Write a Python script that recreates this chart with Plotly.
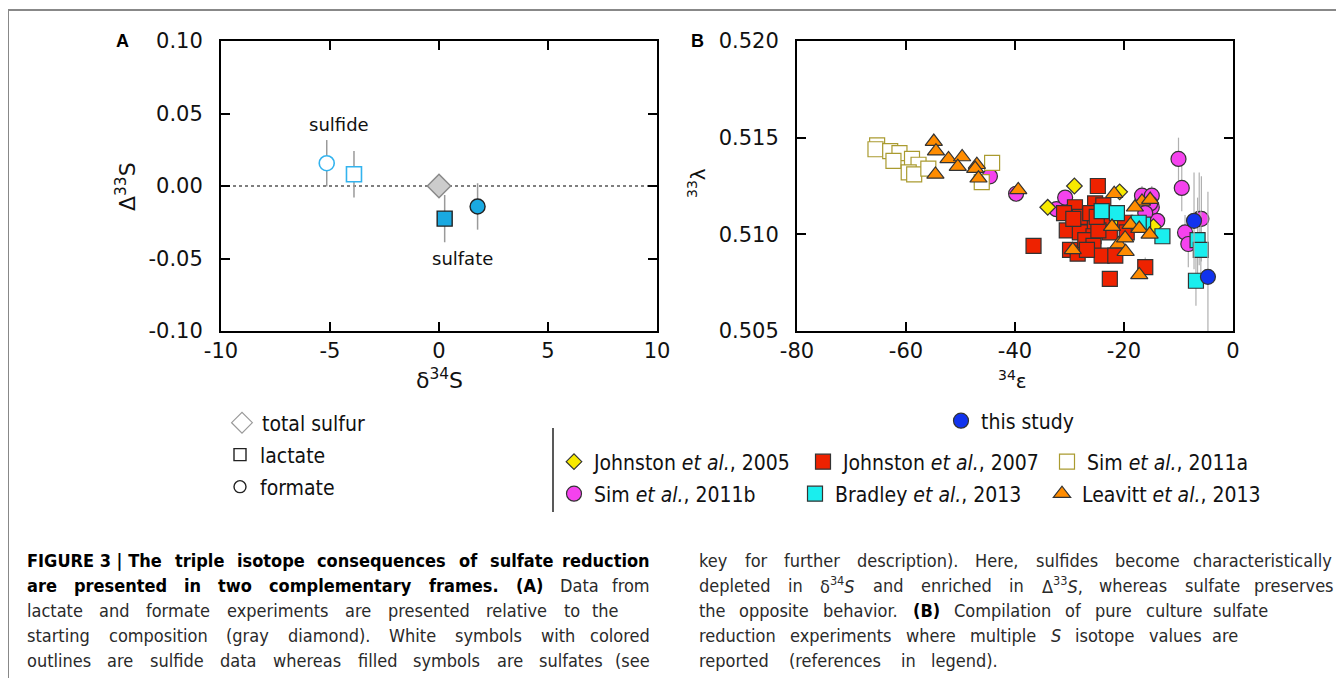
import re

import plotly.graph_objects as go

W, H = 1344, 678
OX, OY = 8, 8  # default page body margin
FW, FH = W - OX, H - OY

# ---- panel A data ----
a_sulfide_formate_x = [-5.15]
a_sulfide_formate_y = [0.0157]
a_sulfide_formate_err = [0.016]
a_sulfide_lactate_x = [-3.9]
a_sulfide_lactate_y = [0.0081]
a_sulfide_lactate_err = [0.016]
a_total_x = [0.0]
a_total_y = [0.0]
a_sulfate_lactate_x = [0.26]
a_sulfate_lactate_y = [-0.0225]
a_sulfate_lactate_err = [0.0163]
a_sulfate_formate_x = [1.77]
a_sulfate_formate_y = [-0.0141]
a_sulfate_formate_err = [0.016]

# ---- panel B data ----
sim11b_x = [-10.0, -9.4, -8.8, -8.2, -6.2, -5.8, -44.6, -39.8, -32.4, -30.8,
            -16.7, -14.9, -14.9, -13.9, -15.2, -16.1]
sim11b_y = [0.5139, 0.5124, 0.5101, 0.5095, 0.5108, 0.5108, 0.5130, 0.5121,
            0.5113, 0.5119, 0.5120, 0.5120, 0.5114, 0.5107, 0.5116, 0.5111]
sim11b_err = [0.0011, 0.0012, 0.0009, 0.0012, 0.0024, 0.0022, 0, 0, 0, 0,
              0.0005, 0.0005, 0.0004, 0, 0, 0]

j05_x = [-29.1, -34.0, -20.8, -21.3, -14.6]
j05_y = [0.5125, 0.5114, 0.5122, 0.5107, 0.5104]

j07_x = [-24.8, -36.6, -29.0, -31.0, -30.5, -29.9, -28.5, -27.4, -26.5, -28.1,
         -25.6, -27.1, -25.3, -23.8, -23.2, -25.6, -24.1, -21.6, -22.6, -16.1,
         -19.8, -19.5, -28.1, -26.2, -22.6, -24.7, -25.0, -29.3, -26.8]
j07_y = [0.5125, 0.5094, 0.5114, 0.5111, 0.5102, 0.5092, 0.5090, 0.5108, 0.5104, 0.5101,
         0.5099, 0.5097, 0.5116, 0.5115, 0.5108, 0.5094, 0.5089, 0.5089, 0.5077, 0.5083,
         0.5106, 0.5101, 0.5109, 0.5111, 0.5101, 0.5102, 0.5109, 0.5108, 0.5092]
j07_err = [0] * 19 + [0.0005] + [0] * 9

sim11a_x = [-65.3, -65.6, -62.9, -61.2, -62.3, -58.9, -57.7, -59.5, -58.5, -55.9, -44.2, -46.1]
sim11a_y = [0.5146, 0.5144, 0.5143, 0.5142, 0.5138, 0.5139, 0.5136, 0.5132, 0.5131, 0.5134,
            0.5137, 0.5127]

bradley_x = [-24.1, -21.3, -16.5, -12.95, -6.5, -5.9, -6.8, -17.3]
bradley_y = [0.5112, 0.5111, 0.5105, 0.5099, 0.5097, 0.5092, 0.5076, 0.5106]
bradley_err = [0, 0, 0, 0.0003, 0.0022, 0.002, 0.0013, 0]

leavitt_x = [-54.9, -54.5, -52.2, -49.7, -50.5, -47.0, -47.3, -46.7, -54.6, -39.4,
             -21.8, -22.2, -21.0, -19.7, -19.8, -18.8, -17.2, -15.3, -16.7, -15.2,
             -18.0, -29.4, -17.2]
leavitt_y = [0.5148, 0.5143, 0.5139, 0.5140, 0.5135, 0.5136, 0.5134, 0.5129, 0.5131, 0.5123,
             0.5121, 0.5104, 0.5095, 0.5091, 0.5098, 0.5105, 0.5103, 0.5100, 0.5117, 0.5118,
             0.5114, 0.5092, 0.5079]

this_x = [-7.15, -4.6]
this_y = [0.5107, 0.5078]
this_err = [0.0025, 0.0044]

a_xticks = [-10, -5, 0, 5, 10]
a_xticklabels = ["-10", "-5", "0", "5", "10"]
a_yticks = [-0.10, -0.05, 0.0, 0.05, 0.10]
a_yticklabels = ["-0.10", "-0.05", "0.00", "0.05", "0.10"]
b_xticks = [-80, -60, -40, -20, 0]
b_xticklabels = ["-80", "-60", "-40", "-20", "0"]
b_yticks = [0.505, 0.510, 0.515, 0.520]
b_yticklabels = ["0.505", "0.510", "0.515", "0.520"]

caption_left = [
    "FIGURE\u00a03\u00a0|\u00a0The triple isotope consequences of sulfate reduction",
    "are presented in two complementary frames. (A) Data from",
    "lactate and formate experiments are presented relative to the",
    "starting composition (gray diamond). White symbols with colored",
    "outlines are sulfide data whereas filled symbols are sulfates (see",
]
caption_left_bold = [99, 7, 0, 0, 0]
caption_left_right = [652, 652, 621, 652, 652]
caption_right = [
    "key for further description). Here, sulfides become characteristically",
    "depleted in δ<sup>34</sup><i>S</i> and enriched in Δ<sup>33</sup><i>S</i>, whereas sulfate preserves",
    "the opposite behavior. <b>(B)</b> Compilation of pure culture sulfate",
    "reduction experiments where multiple <i>S</i> isotope values are",
    "reported (references in legend).",
]
caption_right_right = [1334, 1336, 1270, 1240, 1000]


def px(x):
    return (x - OX) / FW


def py(y):
    return 1 - (y - OY) / FH


FONT = "DejaVu Sans, Liberation Sans, sans-serif"
NARROW = "DejaVu Sans Condensed, Liberation Sans, sans-serif"
CAP_SIZE = 18
OUT = "#333333"

# approximate DejaVu Sans advance widths (em); the condensed face is ~0.9 of these
_LOWER = "abcdefghijklmnopqrstuvwxyz"
_UPPER = "ABCDEFGHIJKLMNOPQRSTUVWXYZ"
_BOOK = dict(zip(_LOWER, [.613, .635, .55, .635, .615, .352, .635, .634, .278, .278, .579, .278, .974,
                          .634, .612, .635, .635, .411, .521, .392, .634, .592, .818, .592, .592, .525]))
_BOOK.update(dict(zip(_UPPER, [.684, .686, .698, .770, .632, .575, .775, .752, .295, .295, .656, .557, .863,
                               .748, .787, .603, .787, .695, .635, .611, .732, .684, .989, .685, .611, .685])))
_BOOK.update({" ": .318, "\u00a0": .318, ".": .318, ",": .318, "(": .39, ")": .39, "|": .337,
              "-": .361})
_BOLD = dict(zip(_LOWER, [.675, .716, .593, .716, .678, .435, .716, .712, .343, .343, .665, .343, 1.042,
                          .712, .687, .716, .716, .493, .595, .478, .712, .652, .924, .645, .652, .582]))
_BOLD.update(dict(zip(_UPPER, [.774, .762, .734, .830, .683, .683, .821, .837, .372, .372, .775, .637, .995,
                               .837, .850, .733, .850, .770, .720, .682, .812, .774, 1.103, .771, .724, .725])))
_BOLD.update({" ": .348, "\u00a0": .348, ".": .38, ",": .38, "(": .457, ")": .457, "|": .365,
              "-": .415})


def word_width(word, size, bold):
    table, default = (_BOLD, .696) if bold else (_BOOK, .636)
    total, scale = 0.0, 1.0
    for part in re.split(r"(<[^>]+>)", word):
        if part == "<sup>":
            scale = 0.7
        elif part == "</sup>":
            scale = 1.0
        elif part.startswith("<"):
            continue
        else:
            for ch in part:
                total += table.get(ch, default) * scale
    return total * size * 0.9


fig = go.Figure()

# panel A
grey_err = dict(type="data", color="#9a9a9a", thickness=1.5, width=0)
fig.add_trace(go.Scatter(
    x=a_sulfide_formate_x, y=a_sulfide_formate_y, mode="markers", showlegend=False,
    error_y=dict(grey_err, array=a_sulfide_formate_err),
    marker=dict(symbol="circle", size=15, color="white", line=dict(color="#33b3ee", width=1.6)),
))
fig.add_trace(go.Scatter(
    x=a_sulfide_lactate_x, y=a_sulfide_lactate_y, mode="markers", showlegend=False,
    error_y=dict(grey_err, array=a_sulfide_lactate_err),
    marker=dict(symbol="square", size=15, color="white", line=dict(color="#33b3ee", width=1.6)),
))
fig.add_trace(go.Scatter(
    x=a_sulfate_lactate_x, y=a_sulfate_lactate_y, mode="markers", showlegend=False,
    error_y=dict(grey_err, array=a_sulfate_lactate_err),
    marker=dict(symbol="square", size=15, color="#1aa9e1", line=dict(color="#222222", width=1.4)),
))
fig.add_trace(go.Scatter(
    x=a_sulfate_formate_x, y=a_sulfate_formate_y, mode="markers", showlegend=False,
    error_y=dict(grey_err, array=a_sulfate_formate_err),
    marker=dict(symbol="circle", size=15, color="#1aa9e1", line=dict(color="#222222", width=1.4)),
))
fig.add_trace(go.Scatter(
    x=a_total_x, y=a_total_y, mode="markers", showlegend=False,
    marker=dict(symbol="diamond", size=18, color="#cccccc", line=dict(color="#888888", width=1.4)),
))

# panel A key
fig.add_trace(go.Scatter(x=[None], y=[None], mode="markers", name="total sulfur", legend="legend",
                         marker=dict(symbol="diamond", size=16, color="white",
                                     line=dict(color="#999999", width=1.2))))
fig.add_trace(go.Scatter(x=[None], y=[None], mode="markers", name="lactate", legend="legend2",
                         marker=dict(symbol="square", size=12, color="white",
                                     line=dict(color="#222222", width=1.4))))
fig.add_trace(go.Scatter(x=[None], y=[None], mode="markers", name="formate", legend="legend3",
                         marker=dict(symbol="circle", size=12, color="white",
                                     line=dict(color="#222222", width=1.4))))

# panel B
b_err = dict(type="data", color="#b0b0b0", thickness=1.2, width=0)


def b_trace(x, y, name, legend, symbol, color, size, err=None, line_color=OUT):
    kw = {}
    if err is not None:
        kw["error_y"] = dict(b_err, array=err)
    return go.Scatter(
        x=x, y=y, mode="markers", name=name, legend=legend, xaxis="x2", yaxis="y2",
        marker=dict(symbol=symbol, size=size, color=color, line=dict(color=line_color, width=1.2)),
        **kw,
    )


fig.add_trace(b_trace(sim11b_x, sim11b_y, "Sim <i>et al.</i>, 2011b", "legend8",
                      "circle", "#f542ee", 15, sim11b_err))
fig.add_trace(b_trace(j05_x, j05_y, "Johnston <i>et al.</i>, 2005", "legend5",
                      "diamond", "#f8ea00", 12))
fig.add_trace(b_trace(j07_x, j07_y, "Johnston <i>et al.</i>, 2007", "legend6",
                      "square", "#ee2200", 15, j07_err))
fig.add_trace(b_trace(sim11a_x, sim11a_y, "Sim <i>et al.</i>, 2011a", "legend7",
                      "square", "white", 15, line_color="#aa9b30"))
fig.add_trace(b_trace(bradley_x, bradley_y, "Bradley <i>et al.</i>, 2013", "legend9",
                      "square", "#1aeeee", 15, bradley_err))
fig.add_trace(b_trace(leavitt_x, leavitt_y, "Leavitt <i>et al.</i>, 2013", "legend10",
                      "triangle-up", "#ff8c00", 15))
fig.add_trace(b_trace(this_x, this_y, "this study", "legend4",
                      "circle", "#1133ee", 15, this_err))

axis_common = dict(
    showline=True, linecolor="black", linewidth=2, mirror="ticks",
    ticks="inside", ticklen=9, tickwidth=2, tickcolor="black",
    showgrid=False, zeroline=False, automargin=False,
    tickfont=dict(family=FONT, size=21, color="#111111"),
)

legend_common = dict(
    xanchor="left", yanchor="middle", bgcolor="rgba(0,0,0,0)", borderwidth=0,
    font=dict(family=NARROW, size=21, color="#111111"),
)

legend_pos = {
    "legend": (222, 423),
    "legend2": (220, 455),
    "legend3": (220, 487),
    "legend4": (941, 421),
    "legend5": (554, 462),
    "legend6": (803, 462),
    "legend7": (1047, 462),
    "legend8": (554, 494),
    "legend9": (795, 494),
    "legend10": (1042, 494),
}
legends = {k: dict(legend_common, x=px(v[0]), y=py(v[1])) for k, v in legend_pos.items()}

annotations = [
    dict(text="<b>A</b>", x=px(122), y=py(41)),
    dict(text="<b>B</b>", x=px(697), y=py(41)),
    dict(text="Δ<sup>33</sup>S", x=px(126), y=py(187), textangle=-90,
         font=dict(family=FONT, size=22, color="#111111")),
    dict(text="δ<sup>34</sup>S", x=px(439), y=py(379),
         font=dict(family=FONT, size=22, color="#111111")),
    dict(text="<sup>33</sup>λ", x=px(697), y=py(183), textangle=-90,
         font=dict(family=FONT, size=20, color="#111111")),
    dict(text="<sup>34</sup>ε", x=px(1012), y=py(380),
         font=dict(family=FONT, size=20, color="#111111")),
]
for a in annotations:
    a.update(xref="paper", yref="paper", showarrow=False, xanchor="center", yanchor="middle")
    a.setdefault("font", dict(family="Liberation Sans, Arial", size=18, color="black"))

annotations += [
    dict(text="sulfide", x=-4.6, y=0.0425, xref="x", yref="y", showarrow=False,
         font=dict(family=FONT, size=18, color="#111111")),
    dict(text="sulfate", x=1.1, y=-0.0503, xref="x", yref="y", showarrow=False,
         font=dict(family=FONT, size=18, color="#111111")),
]


def caption_line(words, left, right, y):
    """Spread the words of one caption line between left and right (justified)."""
    widths = [word_width(w, CAP_SIZE, b) for w, b in words]
    gap = (right - left - sum(widths)) / max(len(words) - 1, 1)
    res = []
    x = left
    for i, ((w, b), wd) in enumerate(zip(words, widths)):
        last = i == len(words) - 1
        txt = "<b>" + w + "</b>" if b else w
        res.append(dict(text=txt, x=px(right if last else x), y=py(y), xref="paper", yref="paper",
                        xanchor="right" if last else "left", yanchor="middle", showarrow=False,
                        font=dict(family=NARROW, size=CAP_SIZE,
                                  color="black" if b else "#2a2a2a")))
        x += wd + gap
    return res


for i, line in enumerate(caption_left):
    toks = line.split(" ")
    words = [(t, k < caption_left_bold[i]) for k, t in enumerate(toks)]
    annotations += caption_line(words, 25, caption_left_right[i], 560 + 25 * i)
for i, line in enumerate(caption_right):
    toks = line.split(" ")
    words = [(t.replace("<b>", "").replace("</b>", ""), t.startswith("<b>")) for t in toks]
    annotations += caption_line(words, 697, caption_right_right[i], 560 + 25 * i)

shapes = [
    dict(type="line", xref="x", yref="y", x0=-10, x1=10, y0=0, y1=0, layer="below",
         line=dict(color="black", width=1.2, dash="dot")),
    dict(type="line", xref="paper", yref="paper", x0=px(8), x1=1, y0=py(10), y1=py(10),
         line=dict(color="#888888", width=2)),
    dict(type="line", xref="paper", yref="paper", x0=px(8), x1=px(8), y0=py(10), y1=0,
         line=dict(color="#888888", width=2)),
    dict(type="line", xref="paper", yref="paper", x0=px(553), x1=px(553), y0=py(428), y1=py(512),
         line=dict(color="#222222", width=1.5)),
]

fig.update_layout(
    width=FW, height=FH,
    margin=dict(l=0, r=0, t=0, b=0, autoexpand=False),
    paper_bgcolor="white", plot_bgcolor="white",
    xaxis=dict(axis_common, domain=[px(221), px(657)], range=[-10, 10], tickvals=a_xticks,
               ticktext=a_xticklabels, ticklabelstandoff=0, anchor="y"),
    yaxis=dict(axis_common, domain=[py(331), py(41)], range=[-0.1, 0.1], tickvals=a_yticks,
               ticktext=a_yticklabels, ticklabelstandoff=12, anchor="x"),
    xaxis2=dict(axis_common, domain=[px(797), px(1233)], range=[-80, 0], tickvals=b_xticks,
                ticktext=b_xticklabels, ticklabelstandoff=0, anchor="y2"),
    yaxis2=dict(axis_common, domain=[py(331), py(41)], range=[0.505, 0.520], tickvals=b_yticks,
                ticktext=b_yticklabels, ticklabelstandoff=12, anchor="x2"),
    annotations=annotations,
    shapes=shapes,
    **legends,
)

fig.write_html("out.html")
